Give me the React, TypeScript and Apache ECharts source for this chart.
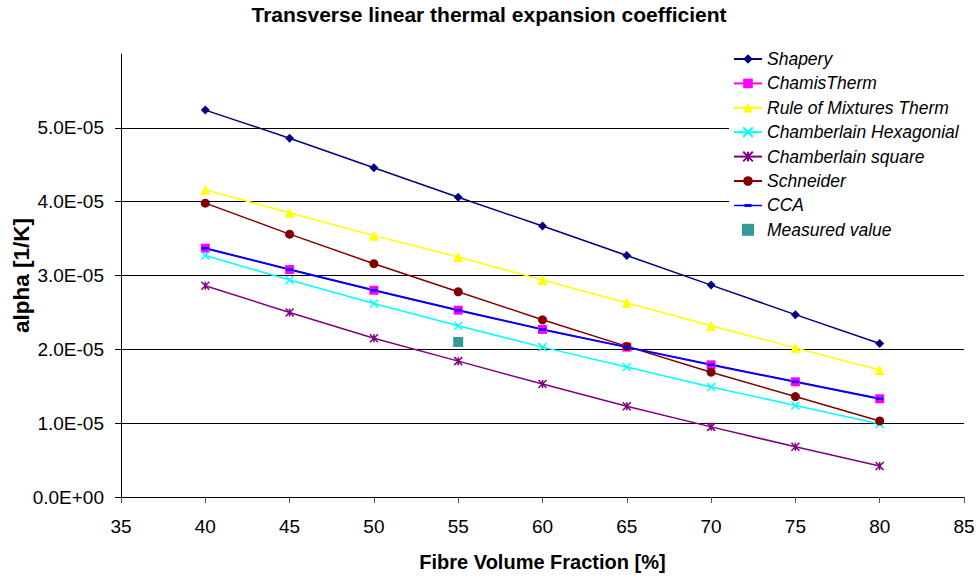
import React, { useEffect, useRef } from "react";
import * as echarts from "echarts";

const fibreFraction = [40, 45, 50, 55, 60, 65, 70, 75, 80];
const shapery = [5.24e-5, 4.86e-5, 4.46e-5, 4.06e-5, 3.67e-5, 3.27e-5, 2.87e-5, 2.47e-5, 2.08e-5];
const chamisTherm = [3.37e-5, 3.08e-5, 2.8e-5, 2.53e-5, 2.27e-5, 2.03e-5, 1.79e-5, 1.56e-5, 1.33e-5];
const ruleOfMixtures = [4.16e-5, 3.85e-5, 3.54e-5, 3.25e-5, 2.94e-5, 2.63e-5, 2.32e-5, 2.02e-5, 1.72e-5];
const chamberlainHex = [3.27e-5, 2.94e-5, 2.62e-5, 2.32e-5, 2.03e-5, 1.76e-5, 1.49e-5, 1.24e-5, 0.99e-5];
const chamberlainSquare = [2.86e-5, 2.5e-5, 2.15e-5, 1.84e-5, 1.53e-5, 1.23e-5, 0.95e-5, 0.68e-5, 0.42e-5];
const schneider = [3.98e-5, 3.56e-5, 3.16e-5, 2.78e-5, 2.4e-5, 2.04e-5, 1.69e-5, 1.36e-5, 1.03e-5];
const cca = [3.37e-5, 3.08e-5, 2.8e-5, 2.53e-5, 2.27e-5, 2.03e-5, 1.79e-5, 1.56e-5, 1.33e-5];
const measuredX = [55];
const measuredY = [2.1e-5];

const FONT = "'Liberation Sans', Arial, sans-serif";

function pair(xs: number[], ys: number[]) {
  return xs.map((x, i) => [x, ys[i]]);
}

function fmtExp(v: number) {
  const s = v.toExponential(1);
  const [m, e] = s.split("e");
  const sign = e[0] === "-" ? "-" : "+";
  const digits = e.replace(/^[+-]/, "").padStart(2, "0");
  return `${m}E${sign}${digits}`;
}

function lineSeries(name: string, data: number[], color: string, symbol: string, size: number | number[], extra: any = {}) {
  return {
    name,
    type: "line",
    data: pair(fibreFraction, data),
    symbol,
    symbolSize: size,
    symbolKeepAspect: true,
    lineStyle: { color, width: 1.5 },
    itemStyle: { color, ...(extra.itemStyle || {}) },
  };
}

export default function App() {
  const ref = useRef<HTMLDivElement>(null);
  useEffect(() => {
    if (!ref.current) return;
    const chart = echarts.init(ref.current, null, { renderer: "svg" });
    const option: any = {
      animation: false,
      backgroundColor: "#ffffff",
      textStyle: { fontFamily: FONT },
      title: {
        text: "Transverse linear thermal expansion coefficient",
        left: "center",
        top: 4,
        padding: 0,
        textStyle: { fontFamily: FONT, fontSize: 21, fontWeight: "bold", color: "#000" },
      },
      legend: {
        orient: "vertical",
        left: 729,
        top: 44,
        padding: [5, 8, 5, 4],
        backgroundColor: "#ffffff",
        itemWidth: 28,
        itemHeight: 12,
        itemGap: 4.4,
        textStyle: { fontFamily: FONT, fontSize: 17.5, fontStyle: "italic", color: "#000", lineHeight: 20 },
        data: [
          "Shapery",
          "ChamisTherm",
          "Rule of Mixtures Therm",
          "Chamberlain Hexagonial",
          "Chamberlain square",
          "Schneider",
          { name: "CCA", icon: "path://M0,4.25L28,4.25L28,5.75L0,5.75Z M10.5,3.5L17.5,3.5L17.5,6.5L10.5,6.5Z" },
          { name: "Measured value", icon: "path://M0,0L10,0L10,10L0,10Z" },
        ],
      },
      grid: { left: 121, right: 14, top: 54, bottom: 80, containLabel: false, outerBoundsMode: "none" },
      xAxis: {
        type: "value",
        min: 35,
        max: 85,
        interval: 5,
        name: "Fibre Volume Fraction [%]",
        nameLocation: "middle",
        nameGap: 55,
        nameMoveOverlap: false,
        nameTextStyle: { fontFamily: FONT, fontSize: 20, fontWeight: "bold", color: "#000" },
        axisLine: { show: true, lineStyle: { color: "#000", width: 1 } },
        axisTick: { show: true, inside: false, length: 6, lineStyle: { color: "#555" } },
        axisLabel: { fontFamily: FONT, fontSize: 19, color: "#000", margin: 20 },
        splitLine: { show: false },
      },
      yAxis: {
        type: "value",
        min: 0,
        max: 6e-5,
        interval: 1e-5,
        name: "alpha [1/K]",
        nameLocation: "middle",
        nameGap: 88,
        nameMoveOverlap: false,
        nameTextStyle: { fontFamily: FONT, fontSize: 22.5, fontWeight: "bold", color: "#000" },
        axisLine: { show: true, lineStyle: { color: "#000", width: 1 } },
        axisTick: { show: true, inside: false, length: 6, lineStyle: { color: "#000" } },
        axisLabel: {
          fontFamily: FONT,
          fontSize: 19,
          color: "#000",
          margin: 17,
          showMaxLabel: false,
          formatter: (v: number) => (v > 5.5e-5 ? "" : fmtExp(v)),
        },
        splitLine: { show: true, showMaxLine: false, lineStyle: { color: "#000", width: 1 } },
      },
      series: [
        lineSeries("Shapery", shapery, "#000080", "diamond", 9),
        lineSeries("ChamisTherm", chamisTherm, "#FF00FF", "rect", 9),
        lineSeries("Rule of Mixtures Therm", ruleOfMixtures, "#FFFF00", "triangle", 10),
        lineSeries("Chamberlain Hexagonial", chamberlainHex, "#00FFFF", "path://M0,0L10,10M10,0L0,10", 8, {
          itemStyle: { borderColor: "#00FFFF", borderWidth: 1.5 },
        }),
        lineSeries("Chamberlain square", chamberlainSquare, "#800080", "path://M0,0L10,10M10,0L0,10M5,0L5,10", 8, {
          itemStyle: { borderColor: "#800080", borderWidth: 1.5 },
        }),
        lineSeries("Schneider", schneider, "#800000", "circle", 9),
        {
          ...lineSeries("CCA", cca, "#0000FF", "path://M0,0L8,0L8,3L0,3Z", 7),
          lineStyle: { color: "#0000FF", width: 2 },
        },
        {
          name: "Measured value",
          type: "scatter",
          data: pair(measuredX, measuredY),
          symbol: "rect",
          symbolSize: 10,
          itemStyle: { color: "#008080" },
        },
      ],
    };
    chart.setOption(option);
    return () => chart.dispose();
  }, []);
  return (
    <div
      ref={ref}
      style={{ position: "fixed", left: 0, top: 0, width: 978, height: 577 }}
    />
  );
}
